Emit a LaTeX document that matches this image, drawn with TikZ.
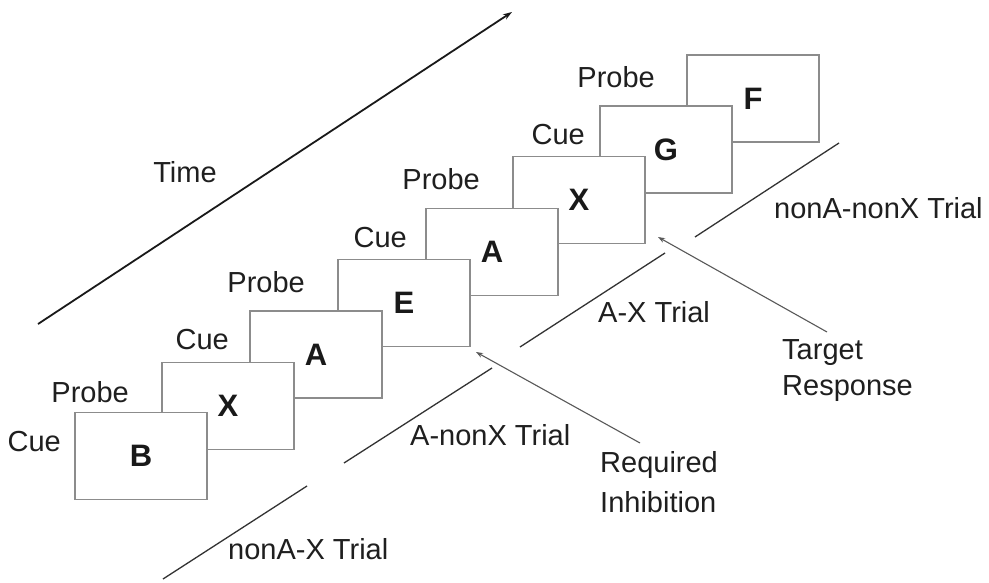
\documentclass[tikz,border=0pt]{standalone}
\usepackage{fontspec}
\setmainfont{Liberation Sans}
\usetikzlibrary{arrows.meta}
\begin{document}
\begin{tikzpicture}[x=1pt,y=-1pt,
  frame/.style={draw=black!45,line width=1.1pt,fill=white,minimum width=132pt,minimum height=87pt,inner sep=0pt,font=\fontsize{31}{31}\selectfont\bfseries,text=black!90},
  lbl/.style={font=\fontsize{29}{29}\selectfont,text=black!88,inner sep=0pt},
  trial/.style={draw=black!80,line width=1.3pt},
  pointer/.style={draw=black!65,line width=1.1pt,-{Stealth[length=7pt,width=5pt]}},
]
\useasboundingbox[fill=white] (0,0) rectangle (989,583);
% boxes, back to front
\node[frame] (bF) at (753,98.5) {F};
\node[frame] (bG) at (666,149.5) {G};
\node[frame] (bX2) at (579,200) {X};
\node[frame] (bA2) at (492,252) {A};
\node[frame] (bE) at (404,303) {E};
\node[frame] (bA1) at (316,354.5) {A};
\node[frame] (bX1) at (228,406) {X};
\node[frame] (bB) at (141,456) {B};
% cue / probe labels
\node[lbl,anchor=east] (c1) at (61,442) {Cue};
\node[lbl,anchor=east] (p1) at (129,392) {Probe};
\node[lbl,anchor=east] (c2) at (229,340) {Cue};
\node[lbl,anchor=east] (p2) at (305,282) {Probe};
\node[lbl,anchor=east] (c3) at (407,238) {Cue};
\node[lbl,anchor=east] (p3) at (480,179) {Probe};
\node[lbl,anchor=east] (c4) at (585,135) {Cue};
\node[lbl,anchor=east] (p4) at (655,77) {Probe};
% time arrow
\coordinate (t0) at (38,324);
\coordinate (t1) at (512,12);
\draw[line width=1.8pt,draw=black!90,-{Stealth[length=9pt,width=6pt]}] (t0) -- (t1);
\node[lbl] (time) at (185,172) {Time};
% trial lines
\coordinate (n1a) at (163,579); \coordinate (n1b) at (307,486);
\coordinate (n2a) at (344,463); \coordinate (n2b) at (492,368);
\coordinate (n3a) at (520,347); \coordinate (n3b) at (665,253);
\coordinate (n4a) at (695,237); \coordinate (n4b) at (839,143);
\draw[trial] (n1a) -- (n1b);
\draw[trial] (n2a) -- (n2b);
\draw[trial] (n3a) -- (n3b);
\draw[trial] (n4a) -- (n4b);
\node[lbl,anchor=west] (tr1) at (228,549) {nonA-X Trial};
\node[lbl,anchor=west] (tr2) at (410,435) {A-nonX Trial};
\node[lbl,anchor=west] (tr3) at (598,312) {A-X Trial};
\node[lbl,anchor=west] (tr4) at (774,208) {nonA-nonX Trial};
% response labels
\node[lbl,anchor=west] (ri1) at (600,465) {Required};
\node[lbl,anchor=west] (ri2) at (600,502) {Inhibition};
\node[lbl,anchor=west] (tg1) at (782,353) {Target};
\node[lbl,anchor=west] (tg2) at (782,389) {Response};
\coordinate (riS) at (640,443); \coordinate (riE) at (476,352);
\coordinate (tgS) at (827,332); \coordinate (tgE) at (658,237);
\draw[pointer] (riS) -- (riE);
\draw[pointer] (tgS) -- (tgE);
\end{tikzpicture}
\end{document}
